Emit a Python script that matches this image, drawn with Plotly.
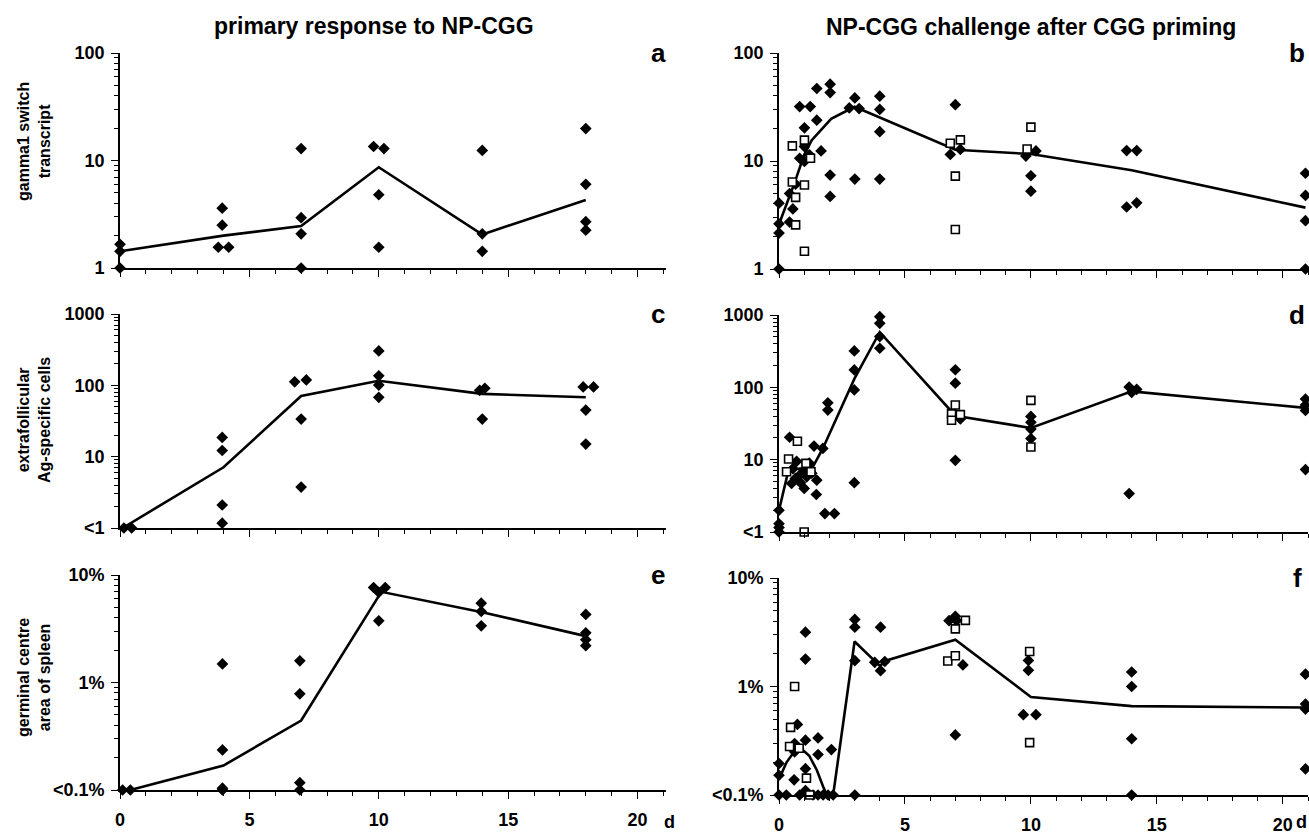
import plotly.graph_objects as go

W, H = 1309, 835
FONT = "Liberation Sans, Arial, sans-serif"

# ---------------- data (days, values) ----------------
# panel a: gamma1 switch transcript, primary response
a_fill_x = [0, 0, 0, 3.95, 3.95, 3.8, 4.2, 7, 7, 7, 7, 9.8, 10.2, 10, 10, 14, 14, 14, 18, 18, 18, 18]
a_fill_y = [1.66, 1.43, 1.0, 3.6, 2.5, 1.56, 1.56, 12.9, 2.94, 2.08, 1.0, 13.5, 12.9, 4.8, 1.56, 12.4, 2.08, 1.43, 19.8, 6.0, 2.7, 2.25]
a_line_x = [0, 4, 7, 10, 14, 18]
a_line_y = [1.43, 2.0, 2.46, 8.66, 2.05, 4.3]

# panel b: gamma1 switch transcript, challenge after priming
b_fill_x = [0, 0, 0, 0, 0.42, 0.42, 0.55, 0.66, 0.82, 1.24, 1.01, 0.82, 1.01, 1.01, 1.21, 1.5, 1.5, 1.67,
            2.03, 2.03, 2.03, 2.03, 3.01, 2.79, 3.18, 3.01, 4.0, 4.0, 4.0, 4.0, 7.0, 6.8, 7.2,
            9.8, 10.2, 10, 10, 13.8, 14.2, 13.8, 14.2, 20.9, 20.9, 20.9, 20.9]
b_fill_y = [1.0, 2.15, 2.62, 4.07, 2.72, 5.0, 3.6, 6.1, 31.9, 31.9, 20.3, 10.6, 13.6, 9.9, 11.4, 23.9, 46.9, 12.4,
            51.4, 43, 7.4, 4.7, 38.4, 31, 30.6, 6.8, 39.8, 30, 18.7, 6.8, 33.2, 11.5, 12.8,
            11.1, 12.4, 7.3, 5.25, 12.5, 12.5, 3.75, 4.1, 7.7, 4.8, 2.8, 1.0]
b_open_x = [0.53, 0.53, 0.66, 0.66, 1.01, 1.01, 1.01, 1.25, 6.8, 7.2, 7.0, 7.0, 10, 9.85]
b_open_y = [13.8, 6.4, 4.6, 2.56, 15.6, 6.0, 1.46, 10.6, 14.6, 15.7, 7.25, 2.32, 20.6, 12.9]
b_line_x = [0, 0.6, 1.0, 1.3, 2.07, 3.0, 7.0, 10.0, 14.0, 20.9]
b_line_y = [2.6, 6.1, 11.4, 15.6, 24.6, 31.8, 12.7, 11.6, 8.2, 3.7]

# panel c: extrafollicular Ag-specific cells, primary response
c_fill_x = [-0.2, 0.15, 0.45, 3.95, 3.95, 3.95, 3.95, 6.75, 7.2, 7.0, 7.0, 10, 10, 10, 10, 13.9, 14.1, 14, 17.9, 18.3, 18, 18]
c_fill_y = [1, 1, 1, 18.6, 12.2, 2.1, 1.17, 112, 119, 33.6, 3.75, 304, 136, 101, 68, 85, 91, 33.6, 95, 95, 45, 15]
c_line_x = [0.1, 4, 7, 10, 14, 18]
c_line_y = [1.0, 7.1, 71, 116, 76, 68]

# panel d: extrafollicular Ag-specific cells, challenge after priming
d_fill_x = [0, 0, 0, 0, 0.42, 0.5, 0.55, 0.65, 0.7, 0.8, 0.85, 1.0, 1.0, 1.1, 1.2, 1.3, 1.5, 1.48, 1.39, 1.74,
            1.82, 2.2, 1.94, 1.94, 2.99, 2.99, 2.99, 2.99, 4.0, 4.0, 4.0, 4.0, 7.0, 7.0, 7.0, 7.2,
            10, 10, 10, 10, 13.9, 14.2, 14.0, 13.9, 20.9, 20.9, 20.9, 20.9]
d_fill_y = [1, 1.15, 1.3, 2.0, 20.4, 4.7, 7.5, 5.5, 9.5, 6.0, 4.8, 4.0, 7.0, 5.8, 9.0, 6.5, 5.2, 3.3, 15.4, 14.3,
            1.8, 1.8, 61, 48.5, 319, 174, 92, 4.8, 948, 767, 503, 347, 175, 114, 9.8, 36.5,
            39.6, 32.8, 26.5, 19.6, 101, 94, 85, 3.4, 69, 57, 48, 7.3]
d_open_x = [0.3, 0.38, 0.73, 1.07, 1.27, 1.0, 7.0, 6.85, 6.85, 7.2, 10, 10]
d_open_y = [6.8, 10.2, 18, 8.9, 6.8, 1.0, 57, 43, 35, 42, 66, 15]
d_line_x = [0, 0.38, 1.34, 1.74, 3.0, 4.0, 7.0, 10.0, 14.0, 20.9]
d_line_y = [2.0, 7.2, 7.9, 14.3, 133, 580, 40.5, 27.4, 88, 52]

# panel e: germinal centre area of spleen (%), primary response
e_fill_x = [-0.2, 0.1, 0.4, 3.96, 3.96, 3.96, 3.96, 6.95, 6.95, 6.95, 6.95, 9.8, 10.25, 10, 10, 13.96, 13.96, 13.96, 18, 18, 18, 18]
e_fill_y = [0.1, 0.1, 0.1, 1.49, 0.236, 0.104, 0.1, 1.59, 0.785, 0.117, 0.1, 7.65, 7.65, 6.9, 3.75, 5.47, 4.58, 3.37, 4.3, 2.9, 2.5, 2.2]
e_line_x = [0.4, 4, 7, 10.1, 14, 18]
e_line_y = [0.1, 0.169, 0.443, 6.97, 4.5, 2.7]

# panel f: germinal centre area of spleen (%), challenge after priming
f_fill_x = [0, 0.29, 0, 0, 0.6, 0.62, 0.73, 0.62, 0.82, 1.05, 1.05, 1.05, 1.05, 1.05, 1.55, 1.55, 2.08,
            1.35, 1.55, 1.75, 1.95, 2.15, 3.01, 3.01, 3.01, 3.01, 4.03, 3.8, 4.03, 4.2,
            6.75, 7.0, 7.05, 7.3, 7.0, 9.9, 9.9, 9.7, 10.2, 14, 14, 14, 14, 20.9, 20.9, 20.9, 20.9]
f_fill_y = [0.1, 0.1, 0.152, 0.195, 0.138, 0.298, 0.447, 0.25, 0.1, 3.17, 1.79, 0.32, 0.175, 0.11, 0.236, 0.336, 0.262,
            0.1, 0.1, 0.1, 0.1, 0.1, 4.15, 3.52, 1.73, 0.1, 3.52, 1.67, 1.4, 1.7,
            4.04, 4.43, 4.04, 1.58, 0.358, 1.74, 1.41, 0.55, 0.55, 1.36, 1.0, 0.33, 0.1, 1.3, 0.69, 0.62, 0.174]
f_open_x = [0.62, 0.46, 0.42, 0.8, 1.09, 1.22, 7.4, 7.0, 6.7, 7.0, 9.95, 9.95]
f_open_y = [1.0, 0.42, 0.28, 0.27, 0.143, 0.1, 4.07, 3.4, 1.72, 1.92, 2.1, 0.304]
f_line_x = [0, 0.3, 0.6, 0.9, 1.2, 1.5, 1.75, 1.9, 2.15, 3.0, 4.0, 4.3, 7.0, 10.0, 14.0, 20.9]
f_line_y = [0.14, 0.2, 0.25, 0.265, 0.23, 0.17, 0.12, 0.1, 0.1, 2.6, 1.55, 1.75, 2.7, 0.8, 0.66, 0.64]

# axis tick labels
ytick_a = [1, 10, 100]
ytext_a = ["1", "10", "100"]
ytick_c = [1, 10, 100, 1000]
ytext_c = ["<1", "10", "100", "1000"]
ytick_e = [0.1, 1, 10]
ytext_e = ["<0.1%", "1%", "10%"]
xtick_vals = [0, 5, 10, 15, 20]
xtick_text = ["0", "5", "10", "15", "20"]

col_titles = ["primary response to NP-CGG", "NP-CGG challenge after CGG priming"]
row_titles = ["gamma1 switch<br>transcript", "extrafollicular<br>Ag-specific cells", "germinal centre<br>area of spleen"]
letters = ["a", "b", "c", "d", "e", "f"]

# ---------------- layout geometry (pixels) ----------------
left_px = (120, 666)
right_px = (779, 1308)
xrange_left = [0, 21.1]
xrange_right = [0, 21.0]
rows_px = {1: (53, 268), 2: (53, 269), 3: (314, 528), 4: (315, 532), 5: (575, 790), 6: (578, 795)}

panels = [
    dict(fx=a_fill_x, fy=a_fill_y, ox=None, oy=None, lx=a_line_x, ly=a_line_y, tv=ytick_a, tt=ytext_a, yr=[0, 2]),
    dict(fx=b_fill_x, fy=b_fill_y, ox=b_open_x, oy=b_open_y, lx=b_line_x, ly=b_line_y, tv=ytick_a, tt=ytext_a, yr=[0, 2]),
    dict(fx=c_fill_x, fy=c_fill_y, ox=None, oy=None, lx=c_line_x, ly=c_line_y, tv=ytick_c, tt=ytext_c, yr=[0, 3]),
    dict(fx=d_fill_x, fy=d_fill_y, ox=d_open_x, oy=d_open_y, lx=d_line_x, ly=d_line_y, tv=ytick_c, tt=ytext_c, yr=[0, 3]),
    dict(fx=e_fill_x, fy=e_fill_y, ox=None, oy=None, lx=e_line_x, ly=e_line_y, tv=ytick_e, tt=ytext_e, yr=[-1, 1]),
    dict(fx=f_fill_x, fy=f_fill_y, ox=f_open_x, oy=f_open_y, lx=f_line_x, ly=f_line_y, tv=ytick_e, tt=ytext_e, yr=[-1, 1]),
]

fig = go.Figure()
layout = dict(
    width=W, height=H, margin=dict(l=0, r=0, t=0, b=0, autoexpand=False),
    paper_bgcolor="white", plot_bgcolor="white", showlegend=False,
    font=dict(family=FONT, color="black"),
)

def minor_log(vals):
    out = []
    for v in vals[:-1]:
        out += [v * k for k in range(2, 10)]
    return out

annotations = []
for i, p in enumerate(panels, start=1):
    xs = "" if i == 1 else str(i)
    left = (i % 2 == 1)
    xpx = left_px if left else right_px
    ytop, ybot = rows_px[i]
    xdom = [xpx[0] / W, xpx[1] / W]
    ydom = [1 - ybot / H, 1 - ytop / H]
    bottom_row = i >= 5
    layout["xaxis" + xs] = dict(
        domain=xdom, anchor="y" + xs, range=xrange_left if left else xrange_right, automargin=False,
        showgrid=False, zeroline=False, showline=True, linecolor="black", linewidth=1.6,
        tickmode="array", tickvals=xtick_vals, ticktext=xtick_text,
        ticks="outside", ticklen=7, tickwidth=1.4, tickcolor="black",
        minor=dict(tickmode="linear", tick0=0, dtick=1, ticks="outside", ticklen=4, tickwidth=1, tickcolor="black"),
        showticklabels=bottom_row, ticklabelstandoff=6,
        tickfont=dict(size=18, family=FONT, weight="bold", color="black"),
    )
    layout["yaxis" + xs] = dict(
        domain=ydom, anchor="x" + xs, type="log", range=p["yr"], automargin=False,
        showgrid=False, zeroline=False, showline=True, linecolor="black", linewidth=1.6,
        tickmode="array", tickvals=p["tv"], ticktext=p["tt"],
        ticks="outside", ticklen=7, tickwidth=1.4, tickcolor="black",
        minor=dict(tickmode="array", tickvals=minor_log(p["tv"]), ticks="outside", ticklen=4, tickwidth=1, tickcolor="black"),
        ticklabelstandoff=3,
        tickfont=dict(size=18, family=FONT, weight="bold", color="black"),
    )
    xa, ya = "x" + xs, "y" + xs
    fig.add_trace(go.Scatter(x=p["lx"], y=p["ly"], mode="lines", xaxis=xa, yaxis=ya,
                             line=dict(color="black", width=2.6), cliponaxis=False, hoverinfo="skip"))
    fig.add_trace(go.Scatter(x=p["fx"], y=p["fy"], mode="markers", xaxis=xa, yaxis=ya, cliponaxis=False,
                             marker=dict(symbol="diamond", size=9, color="black", line=dict(width=0))))
    if p["ox"] is not None:
        fig.add_trace(go.Scatter(x=p["ox"], y=p["oy"], mode="markers", xaxis=xa, yaxis=ya, cliponaxis=False,
                                 marker=dict(symbol="square", size=8, color="white",
                                             line=dict(width=1.6, color="black"))))
    # panel letter
    lx_px = 658 if left else 1297
    annotations.append(dict(text="<b>%s</b>" % letters[i - 1], x=lx_px / W, y=1 - ytop / H,
                            xref="paper", yref="paper", showarrow=False,
                            font=dict(size=26, family=FONT, color="black"), xanchor="center", yanchor="middle"))
    if left:
        row = (i - 1) // 2
        ycen = [142, 420, 678][row]
        annotations.append(dict(text="<b>%s</b>" % row_titles[row], x=34 / W, y=1 - ycen / H,
                                xref="paper", yref="paper", showarrow=False, textangle=-90,
                                font=dict(size=16, family=FONT, color="black"),
                                xanchor="center", yanchor="middle"))
    if bottom_row:
        annotations.append(dict(text="<b>d</b>", x=(669 if left else 1301) / W, y=1 - 822 / H,
                                xref="paper", yref="paper", showarrow=False,
                                font=dict(size=18, family=FONT, color="black"),
                                xanchor="center", yanchor="middle"))

annotations.append(dict(text="<b>%s</b>" % col_titles[0], x=374 / W, y=1 - 26 / H, xref="paper", yref="paper",
                        showarrow=False, font=dict(size=23, family=FONT, color="black"),
                        xanchor="center", yanchor="middle"))
annotations.append(dict(text="<b>%s</b>" % col_titles[1], x=1031 / W, y=1 - 27 / H, xref="paper", yref="paper",
                        showarrow=False, font=dict(size=23, family=FONT, color="black"),
                        xanchor="center", yanchor="middle"))
layout["annotations"] = annotations
fig.update_layout(**layout)

fig.write_html("out.html", config={"displayModeBar": False},
               post_script="document.body.style.margin='0';")
